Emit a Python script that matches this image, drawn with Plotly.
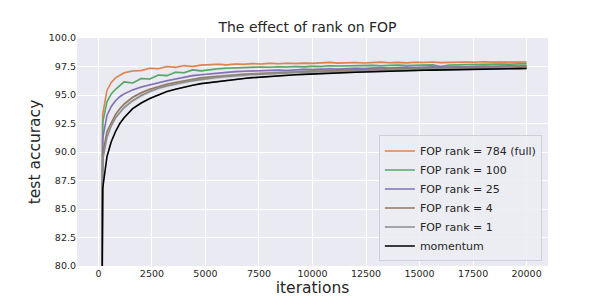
import plotly.graph_objects as go

iterations = [0, 200, 400, 600, 800, 1000, 1200, 1600, 2000, 2400, 2800, 3200, 3600, 4000,
              4400, 4800, 5200, 5600, 6000, 6400, 6800, 7200, 7600, 8000, 8400, 8800, 9200,
              9600, 10000, 10400, 10800, 11200, 11600, 12000, 12400, 12800, 13200, 13600,
              14000, 14400, 14800, 15200, 15600, 16000, 16400, 16800, 17200, 17600, 18000,
              18400, 18800, 19200, 19600, 20000]

rank_784 = [10.0, 93.3, 95.4, 96.1, 96.5, 96.7, 96.95, 97.1, 97.15, 97.35, 97.3, 97.5, 97.42, 97.58,
            97.5, 97.62, 97.65, 97.7, 97.64, 97.72,
            97.70, 97.75, 97.72, 97.78, 97.74, 97.79, 97.76, 97.80, 97.77, 97.82, 97.86, 97.80,
            97.83, 97.85, 97.81, 97.84, 97.88, 97.83, 97.86, 97.82, 97.87, 97.85, 97.89, 97.84,
            97.88, 97.86, 97.90, 97.87, 97.92, 97.88, 97.86, 97.90, 97.88, 97.90]

rank_100 = [10.0, 92.6, 94.4, 95.1, 95.5, 95.85, 96.15, 96.05, 96.45, 96.4, 96.75, 96.7, 97.0, 96.95,
            97.2, 97.12, 97.22, 97.3, 97.35, 97.38,
            97.40, 97.42, 97.46, 97.43, 97.48, 97.45, 97.50, 97.47, 97.52, 97.50, 97.56, 97.54,
            97.56, 97.53, 97.58, 97.60, 97.57, 97.60, 97.62, 97.58, 97.62, 97.60, 97.64, 97.50,
            97.63, 97.66, 97.68, 97.65, 97.70, 97.68, 97.72, 97.70, 97.73, 97.75]

rank_25 = [10.0, 91.2, 93.2, 94.0, 94.5, 94.85, 95.1, 95.45, 95.7, 95.9, 96.05, 96.25, 96.4, 96.55,
           96.7, 96.78, 96.85, 96.95, 97.0, 97.05,
           97.08, 97.12, 97.10, 97.16, 97.18, 97.15, 97.22, 97.25, 97.23, 97.28, 97.30, 97.27,
           97.33, 97.35, 97.32, 97.36, 97.40, 97.37, 97.41, 97.44, 97.40, 97.45, 97.47, 97.44,
           97.48, 97.50, 97.47, 97.52, 97.54, 97.51, 97.55, 97.57, 97.55, 97.58]

rank_4 = [10.0, 89.8, 91.8, 92.6, 93.3, 93.8, 94.2, 94.8, 95.2, 95.5, 95.75, 95.95, 96.1, 96.25,
          96.38, 96.5, 96.58, 96.65, 96.72, 96.78,
          96.82, 96.86, 96.90, 96.93, 96.97, 97.00, 97.02, 97.06, 97.08, 97.10, 97.14, 97.13,
          97.18, 97.20, 97.22, 97.24, 97.27, 97.26, 97.30, 97.32, 97.31, 97.34, 97.36, 97.35,
          97.38, 97.40, 97.39, 97.42, 97.43, 97.41, 97.44, 97.46, 97.45, 97.47]

rank_1 = [10.0, 89.3, 91.3, 92.3, 93.0, 93.5, 93.9, 94.5, 94.95, 95.3, 95.6, 95.8, 95.98, 96.12,
          96.26, 96.38, 96.48, 96.56, 96.63, 96.7,
          96.75, 96.80, 96.83, 96.88, 96.90, 96.94, 96.97, 97.00, 97.02, 97.06, 97.08, 97.10,
          97.12, 97.15, 97.17, 97.19, 97.21, 97.23, 97.25, 97.27, 97.26, 97.29, 97.31, 97.30,
          97.33, 97.35, 97.34, 97.36, 97.38, 97.37, 97.39, 97.40, 97.39, 97.40]

momentum = [10.0, 86.8, 89.6, 90.9, 91.8, 92.5, 93.0, 93.8, 94.3, 94.7, 95.0, 95.3, 95.5, 95.7,
            95.85, 96.0, 96.1, 96.2, 96.3, 96.38,
            96.45, 96.52, 96.58, 96.63, 96.68, 96.73, 96.77, 96.81, 96.85, 96.88, 96.91, 96.94,
            96.97, 97.00, 97.02, 97.05, 97.07, 97.09, 97.11, 97.13, 97.15, 97.17, 97.18, 97.20,
            97.21, 97.23, 97.24, 97.26, 97.27, 97.28, 97.29, 97.30, 97.31, 97.32]

# spread (std across runs) per series
spreads = {"784": 0.08, "100": 0.08, "25": 0.08, "4": 0.1, "1": 0.15, "mom": 0.06}

x_ticks = [0, 2500, 5000, 7500, 10000, 12500, 15000, 17500, 20000]
x_ticktext = ["0", "2500", "5000", "7500", "10000", "12500", "15000", "17500", "20000"]
y_ticks = [80, 82.5, 85, 87.5, 90, 92.5, 95, 97.5, 100]
y_ticktext = ["80.0", "82.5", "85.0", "87.5", "90.0", "92.5", "95.0", "97.5", "100.0"]

series = [
    ("FOP rank = 784 (full)", rank_784, spreads["784"], (221, 132, 82)),
    ("FOP rank = 100", rank_100, spreads["100"], (85, 168, 104)),
    ("FOP rank = 25", rank_25, spreads["25"], (129, 114, 179)),
    ("FOP rank = 4", rank_4, spreads["4"], (147, 120, 96)),
    ("FOP rank = 1", rank_1, spreads["1"], (140, 140, 140)),
    ("momentum", momentum, spreads["mom"], (0, 0, 0)),
]

fig = go.Figure()
for name, vals, sd, (r, g, b) in series:
    upper = [v + sd for v in vals]
    lower = [v - sd for v in vals]
    fig.add_trace(go.Scatter(x=iterations, y=upper, mode="lines", line=dict(width=0),
                             showlegend=False, hoverinfo="skip"))
    fig.add_trace(go.Scatter(x=iterations, y=lower, mode="lines", line=dict(width=0),
                             fill="tonexty", fillcolor=f"rgba({r},{g},{b},0.25)",
                             showlegend=False, hoverinfo="skip"))
    fig.add_trace(go.Scatter(x=iterations, y=vals, mode="lines", name=name,
                             line=dict(color=f"rgb({r},{g},{b})", width=1.6)))

# page body adds an 8px offset; figure is sized to fit inside the window
W, H = 601, 297
fig.update_layout(
    width=W, height=H,
    margin=dict(l=69, r=61, t=30, b=39),
    paper_bgcolor="white",
    plot_bgcolor="#eaeaf2",
    font=dict(family="DejaVu Sans", color="#262626", size=10),
    title=dict(text="The effect of rank on FOP", x=299.5 / W, xanchor="center",
               y=1 - 19 / H, yanchor="middle", font=dict(size=14, color="#262626")),
    xaxis=dict(range=[-1000, 21000], tickvals=x_ticks, ticktext=x_ticktext,
               showgrid=True, gridcolor="white", gridwidth=1, zeroline=False, showline=False,
               automargin=False, tickfont=dict(size=9.5), ticks="",
               title=dict(text="iterations", font=dict(size=15.5), standoff=4)),
    yaxis=dict(range=[80, 100], tickvals=y_ticks, ticktext=y_ticktext,
               showgrid=True, gridcolor="white", gridwidth=1, zeroline=False, showline=False,
               automargin=False, tickfont=dict(size=9.5), ticks="",
               title=dict(text="test accuracy", font=dict(size=15.5), standoff=4)),
    legend=dict(x=0.987, xanchor="right", y=0.02, yanchor="bottom", traceorder="normal",
                bgcolor="rgba(236,236,243,0.85)", bordercolor="#cfcfd6", borderwidth=1,
                font=dict(size=11, color="#262626"), tracegroupgap=0),
    showlegend=True,
)

fig.write_html("out.html")
